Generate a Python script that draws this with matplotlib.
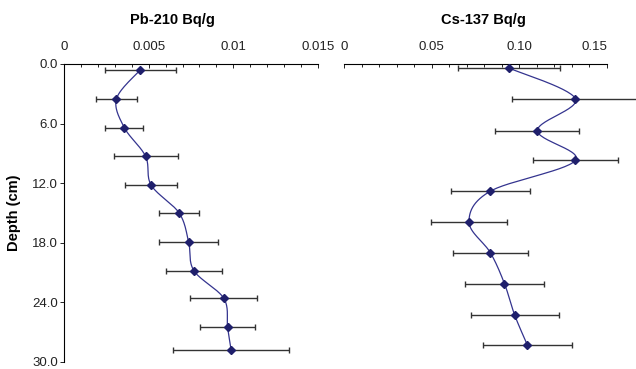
import numpy as np
import matplotlib
matplotlib.use("Agg")
import matplotlib.pyplot as plt
from matplotlib.ticker import MultipleLocator, FormatStrFormatter

plt.rcParams['font.family'] = ['Liberation Sans', 'DejaVu Sans']

# Pb-210 profile
pb_depth = [0.6, 3.5, 6.4, 9.3, 12.2, 15.0, 17.9, 20.8, 23.6, 26.5, 28.8]
pb_value = [0.0045, 0.0031, 0.00356, 0.00482, 0.00515, 0.0068, 0.00736, 0.00767, 0.00944, 0.00966, 0.00987]
pb_err = [0.0021, 0.00122, 0.00112, 0.00189, 0.00155, 0.0012, 0.00174, 0.00164, 0.00198, 0.00164, 0.00343]

# Cs-137 profile
cs_depth = [0.4, 3.5, 6.7, 9.7, 12.8, 15.9, 19.0, 22.1, 25.3, 28.3]
cs_value = [0.094, 0.132, 0.1103, 0.132, 0.0835, 0.0713, 0.0835, 0.0915, 0.0974, 0.1046]
cs_err = [0.029, 0.036, 0.024, 0.024, 0.0226, 0.0215, 0.0215, 0.0227, 0.025, 0.0252]

depth_ticks = [0, 6, 12, 18, 24, 30]

line_col = '#34348f'
mark_col = '#1f1f6b'
err_col = '#333333'


def smooth_line(ax, xs, ys, n=30):
    # Catmull-Rom in display space, like a spreadsheet smoothed line
    pts = ax.transData.transform(np.column_stack([xs, ys]))
    p = np.vstack([pts[0], pts, pts[-1]])
    out = []
    t = np.linspace(0, 1, n)[:, None]
    for i in range(1, len(p) - 2):
        p0, p1, p2, p3 = p[i - 1], p[i], p[i + 1], p[i + 2]
        seg = 0.5 * ((2 * p1) + (-p0 + p2) * t + (2 * p0 - 5 * p1 + 4 * p2 - p3) * t ** 2
                     + (-p0 + 3 * p1 - 3 * p2 + p3) * t ** 3)
        out.append(seg)
    out = np.vstack(out)
    data = ax.transData.inverted().transform(out)
    ax.plot(data[:, 0], data[:, 1], color=line_col, lw=0.9, zorder=3)


def style_axis(ax, xmax, major, minor, fmt):
    ax.set_xlim(0, xmax)
    ax.set_ylim(30, 0)
    ax.xaxis.set_ticks_position('top')
    ax.xaxis.set_major_locator(MultipleLocator(major))
    ax.xaxis.set_minor_locator(MultipleLocator(minor))
    ax.xaxis.set_major_formatter(FormatStrFormatter(fmt))
    ax.tick_params(axis='x', which='both', direction='in', length=3, width=0.7,
                   labelsize=9.5, pad=8, colors='#222222')
    ax.tick_params(axis='x', which='minor', length=2.5)
    ax.spines['bottom'].set_visible(False)
    ax.spines['right'].set_visible(False)
    ax.spines['top'].set_linewidth(0.8)
    ax.spines['left'].set_linewidth(0.8)


fig = plt.figure(figsize=(6.36, 3.69), dpi=100)
W, H = 636, 369
ax1 = fig.add_axes([64 / W, 1 - 362 / H, 254 / W, 298 / H])
ax2 = fig.add_axes([344 / W, 1 - 362 / H, 263 / W, 298 / H])

style_axis(ax1, 0.015, 0.005, 0.001, '%g')
style_axis(ax2, 0.15, 0.05, 0.01, '%g')
ax2.xaxis.set_major_formatter(plt.FuncFormatter(lambda v, p: '0' if v == 0 else '%.2f' % v))

ax1.set_yticks(depth_ticks)
ax1.yaxis.set_major_formatter(FormatStrFormatter('%.1f'))
ax1.tick_params(axis='y', direction='out', length=3, width=0.7, labelsize=9.5, pad=1.5, colors='#222222')
ax1.set_ylabel('Depth (cm)', fontsize=10.5, fontweight='bold', labelpad=8)

ax2.spines['left'].set_visible(False)
ax2.set_yticks([])

for ax, d, v, e in [(ax1, pb_depth, pb_value, pb_err), (ax2, cs_depth, cs_value, cs_err)]:
    cont = ax.errorbar(v, d, xerr=e, fmt='none', ecolor=err_col, elinewidth=1.0,
                       capsize=2.5, capthick=1.0, zorder=2)
    for art in cont.get_children():
        art.set_clip_on(False)
    smooth_line(ax, v, d)
    ax.plot(v, d, linestyle='none', marker='D', markersize=4.5, color=mark_col, zorder=4,
            clip_on=False)

# last Cs label sits inside the axis end, as in the source chart
fig.canvas.draw()
for lab in ax2.get_xticklabels():
    if lab.get_text() == '0.15':
        lab.set_horizontalalignment('right')

fig.text(172 / W, 1 - 20 / H, 'Pb-210 Bq/g', ha='center', va='center', fontsize=10.5, fontweight='bold')
fig.text(483 / W, 1 - 20 / H, 'Cs-137 Bq/g', ha='center', va='center', fontsize=10.5, fontweight='bold')

fig.savefig('out.png', dpi=100)
